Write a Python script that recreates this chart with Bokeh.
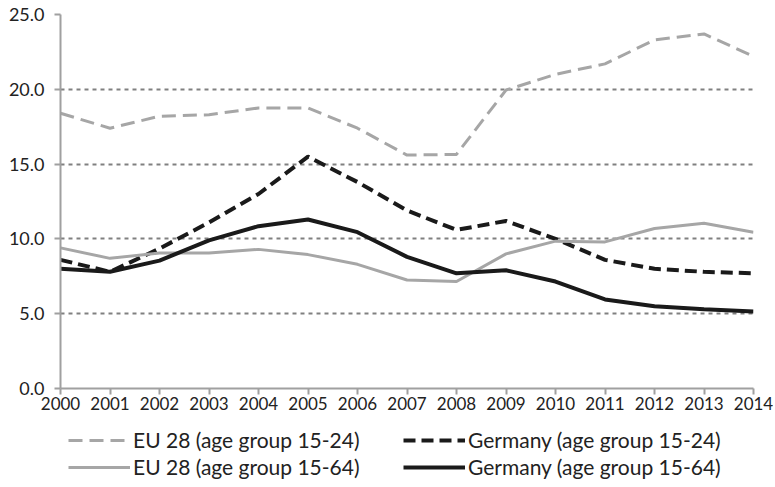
from bokeh.plotting import figure
from bokeh.layouts import column
from bokeh.models import Range1d, FixedTicker, NumeralTickFormatter, Legend, LegendItem
from bokeh.embed import file_html
from bokeh.resources import INLINE

years = list(range(2000, 2015))
eu_15_24 = [18.4, 17.4, 18.2, 18.3, 18.75, 18.75, 17.4, 15.6, 15.65, 19.95, 21.0, 21.7, 23.3, 23.7, 22.2]
de_15_24 = [8.6, 7.8, 9.35, 11.1, 13.0, 15.5, 13.8, 11.9, 10.6, 11.2, 10.0, 8.6, 8.0, 7.8, 7.7]
eu_15_64 = [9.4, 8.7, 9.05, 9.05, 9.3, 8.95, 8.3, 7.25, 7.15, 9.0, 9.85, 9.8, 10.7, 11.05, 10.45]
de_15_64 = [8.0, 7.8, 8.55, 9.9, 10.85, 11.3, 10.45, 8.8, 7.7, 7.9, 7.15, 5.95, 5.5, 5.3, 5.15]
y_ticks = [0, 5, 10, 15, 20, 25]
labels = ["EU 28 (age group 15-24)", "Germany (age group 15-24)",
          "EU 28 (age group 15-64)", "Germany (age group 15-64)"]

FONT = "Lato"
TXT = "#222222"
GREY = "#a6a6a6"
BLACK = "#1a1a1a"
styles = [
    dict(line_color=GREY, line_width=3, line_dash="14 7"),
    dict(line_color=BLACK, line_width=4, line_dash="12 6"),
    dict(line_color=GREY, line_width=3),
    dict(line_color=BLACK, line_width=4),
]
series = [eu_15_24, de_15_24, eu_15_64, de_15_64]

p = figure(width=773, height=418, output_backend="svg", toolbar_location=None,
           x_range=Range1d(2000, 2014), y_range=Range1d(0, 25),
           min_border_left=60, min_border_top=14, min_border_right=20, min_border_bottom=30)
p.outline_line_color = None

for ax in (p.xaxis[0], p.yaxis[0]):
    ax.axis_line_color = "#a0a0a0"
    ax.axis_line_width = 2
    ax.major_tick_line_color = "#a0a0a0"
    ax.major_tick_line_width = 2
    ax.major_tick_in = 0
    ax.major_tick_out = 6
    ax.minor_tick_line_color = None
    ax.major_label_text_font = FONT
    ax.major_label_text_color = TXT

p.xaxis.major_label_text_font_size = "17px"
p.yaxis.major_label_text_font_size = "18px"
p.xaxis.ticker = FixedTicker(ticks=years)
p.yaxis.ticker = FixedTicker(ticks=y_ticks)
p.yaxis.formatter = NumeralTickFormatter(format="0.0")
p.xaxis.major_label_standoff = 2
p.yaxis.major_label_standoff = 10

p.xgrid.grid_line_color = None
p.ygrid.grid_line_color = "#808080"
p.ygrid.grid_line_width = 2
p.ygrid.grid_line_dash = "4 4"

for s, st in zip(series, styles):
    p.line(years, s, **st)

# legend panel (series drawn off-range so only the legend shows)
lg = figure(width=773, height=66, output_backend="svg", toolbar_location=None,
            x_range=Range1d(0, 1), y_range=Range1d(0, 1),
            min_border_left=0, min_border_top=0, min_border_right=0, min_border_bottom=0)
lg.axis.visible = False
lg.grid.visible = False
lg.outline_line_color = None
dummies = [lg.line(years, s, **st) for s, st in zip(series, styles)]
order = [0, 2, 1, 3]  # column-major fill -> row-major reading
legend = Legend(items=[LegendItem(label=labels[i], renderers=[dummies[i]]) for i in order],
                ncols=2, location=(8, 5))
legend.label_text_font = FONT
legend.label_text_font_size = "21px"
legend.label_text_color = TXT
legend.glyph_width = 62
legend.glyph_height = 20
legend.label_standoff = 3
legend.label_width = 268
legend.label_height = 20
legend.spacing = 2
legend.padding = 0
legend.margin = 0
legend.border_line_color = None
legend.background_fill_alpha = 0
lg.add_layout(legend, "center")

open("out.html", "w").write(file_html(column(p, lg, spacing=0), INLINE))
